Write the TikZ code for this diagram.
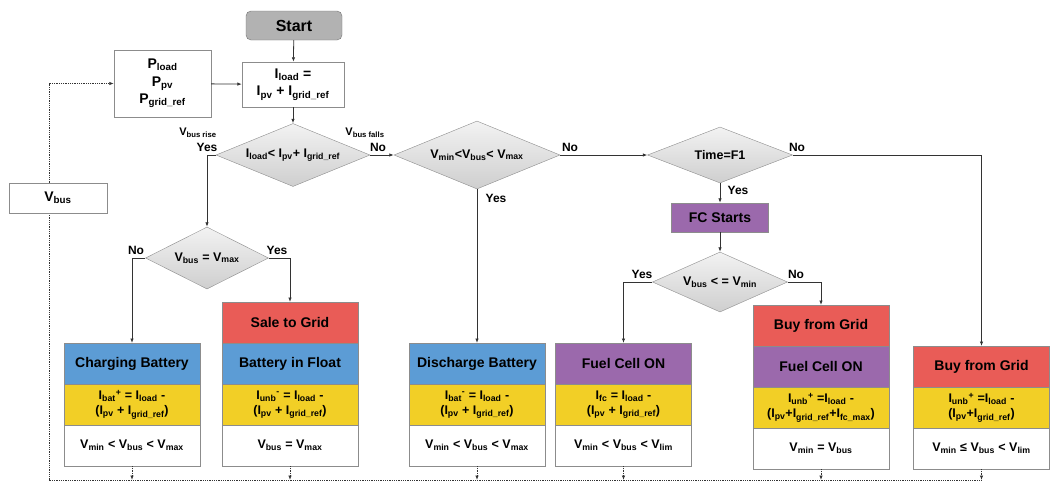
\documentclass[tikz,border=0pt]{standalone}
\usepackage{fontspec}
\setmainfont{Liberation Sans}
\usetikzlibrary{shapes.geometric,positioning,arrows.meta}

\definecolor{boxblue}{RGB}{92,156,213}
\definecolor{boxyellow}{RGB}{242,207,38}
\definecolor{boxred}{RGB}{233,92,87}
\definecolor{boxpurple}{RGB}{155,105,172}
\colorlet{box edge}{black!45}
\colorlet{flow line}{black!80}

\def\lo#1{\textsubscript{#1}}
\def\grf{I\lo{grid\_ref}}
\def\bigtext{\bfseries\fontsize{14}{17.5}\selectfont}
\def\smalltext{\bfseries\fontsize{12.5}{15.5}\selectfont}

\tikzset{band/.style={draw=box edge, minimum width=136pt, minimum height=41pt,
      inner sep=0pt, outer sep=0pt, align=center, font=\bigtext},
    formula/.style={band, fill=boxyellow, font=\smalltext},
    result/.style={band, fill=white, font=\smalltext},
    decision/.style={diamond, draw=box edge, top color=gray!10, bottom color=gray!38,
      inner sep=0pt, shape aspect=2.4, font=\smalltext},
    plain/.style={draw=box edge, fill=white, align=center, inner sep=0pt, font=\bigtext},
    flow/.style={draw=flow line, line width=0.8pt, -{Latex[length=4.5pt,width=3.5pt]}},
    feed/.style={flow, densely dotted},
    tag/.style={inner sep=0pt, font=\bfseries\fontsize{12}{14}\selectfont}}

\begin{document}
\begin{tikzpicture}[x=1pt, y=-1pt]
    \useasboundingbox (0,0) rectangle (1054,482);
    % top of the chart
    \node[plain, rounded corners=5pt, fill=gray!60, draw=black!55, minimum width=96pt,
      minimum height=29pt, font=\bfseries\fontsize{16}{18}\selectfont] (start) at (294,25.5) {Start};
    \node[plain, minimum width=102pt, minimum height=45pt] (iload) at (293,84.5) {I\lo{load} =\\I\lo{pv} + \grf};
    \node[plain, minimum width=97pt, minimum height=67pt] (pload) at (162.5,83.5) {P\lo{load}\\P\lo{pv}\\P\lo{grid\_ref}};
    \node[decision, minimum width=154pt, minimum height=63pt] (d1) at (293,155) {I\lo{load}< I\lo{pv}+ \grf};
    \node[decision, minimum width=166pt, minimum height=68pt] (d2) at (477,155) {V\lo{min}<V\lo{bus}< V\lo{max}};
    \node[decision, minimum width=145pt, minimum height=56pt, shape aspect=2.6] (time) at (720,155) {Time=F1};
    \node[plain, fill=boxpurple, minimum width=97pt, minimum height=29pt] (fcs) at (720,217.5) {FC Starts};
    \node[decision, minimum width=135pt, minimum height=60pt, shape aspect=2.25] (d3) at (720,282) {V\lo{bus} < = V\lo{min}};
    \node[decision, minimum width=123pt, minimum height=62pt, shape aspect=2] (d4) at (207,258) {V\lo{bus} = V\lo{max}};

    % result columns
    \node[band, fill=boxblue] (chg) at (132,363.5) {Charging Battery};
    \node[formula, below=0pt of chg] (chgI) {I\lo{bat}\textsuperscript{+} = I\lo{load} -\\(I\lo{pv} + \grf)};
    \node[result, below=0pt of chgI] (chgV) {V\lo{min} < V\lo{bus} < V\lo{max}};

    \node[band, fill=boxred] (sale) at (290,322.5) {Sale to Grid};
    \node[band, fill=boxblue, below=0pt of sale] (float) {Battery in Float};
    \node[formula, below=0pt of float] (saleI) {I\lo{unb}\textsuperscript{-} = I\lo{load} -\\(I\lo{pv} + \grf)};
    \node[result, below=0pt of saleI] (saleV) {V\lo{bus} = V\lo{max}};

    \node[band, fill=boxblue] (dis) at (477,363.5) {Discharge Battery};
    \node[formula, below=0pt of dis] (disI) {I\lo{bat}\textsuperscript{-} = I\lo{load} -\\(I\lo{pv} + \grf)};
    \node[result, below=0pt of disI] (disV) {V\lo{min} < V\lo{bus} < V\lo{max}};

    \node[band, fill=boxpurple] (fc) at (623.5,363.5) {Fuel Cell ON};
    \node[formula, below=0pt of fc] (fcI) {I\lo{fc} = I\lo{load} -\\(I\lo{pv} + \grf)};
    \node[result, below=0pt of fcI] (fcV) {V\lo{min} < V\lo{bus} < V\lo{lim}};

    \node[band, fill=boxred] (buy) at (821,325.5) {Buy from Grid};
    \node[band, fill=boxpurple, below=0pt of buy] (buyfc) {Fuel Cell ON};
    \node[formula, below=0pt of buyfc] (buyI) {I\lo{unb}\textsuperscript{+} =I\lo{load} -\\(I\lo{pv}+\grf+I\lo{fc\_max})};
    \node[result, below=0pt of buyI] (buyV) {V\lo{min} = V\lo{bus}};

    \node[band, fill=boxred] (grid) at (981.5,366.5) {Buy from Grid};
    \node[formula, below=0pt of grid] (gridI) {I\lo{unb}\textsuperscript{+} =I\lo{load} -\\(I\lo{pv}+\grf)};
    \node[result, below=0pt of gridI] (gridV) {V\lo{min} ≤ V\lo{bus} < V\lo{lim}};

    % connectors
    \draw[flow] (start) -- (iload);
    \draw[flow] (pload) -- (iload);
    \draw[flow] (iload) -- (d1);
    \draw[flow] (d1.west) -| (d4.north);
    \draw[flow] (d1.east) -- (d2.west);
    \draw[flow] (d2.east) -- (time.west);
    \draw[flow] (d2.south) -- (dis.north);
    \draw[flow] (time.south) -- (fcs.north);
    \draw[flow] (fcs.south) -- (d3.north);
    \draw[flow] (d3.west) -| (fc.north);
    \draw[flow] (d3.east) -| (buy.north);
    \draw[flow] (time.east) -| (grid.north);
    \draw[flow] (d4.west) -| (chg.north);
    \draw[flow] (d4.east) -| (sale.north);

    % branch labels
    \node[tag, font=\bfseries\fontsize{11}{13}\selectfont] (rise) at (198,133) {V\lo{bus rise}};
    \node[tag] (yes1) at (207,147) {Yes};
    \node[tag, font=\bfseries\fontsize{11}{13}\selectfont] (falls) at (365,133) {V\lo{bus falls}};
    \node[tag] (no1) at (378,147) {No};
    \node[tag] (no2) at (570,147) {No};
    \node[tag] (yes2) at (496,198) {Yes};
    \node[tag] (no3) at (797,147) {No};
    \node[tag] (yes3) at (738,190) {Yes};
    \node[tag] (yes4) at (642,274) {Yes};
    \node[tag] (no4) at (796,274) {No};
    \node[tag] (no5) at (136,250) {No};
    \node[tag] (yes5) at (277,250) {Yes};

    % feedback of the bus voltage
    \coordinate (bus) at (49,480);
    \draw[feed] (chgV.south) -- (chgV.south |- bus);
    \draw[feed] (saleV.south) -- (saleV.south |- bus);
    \draw[feed] (disV.south) -- (disV.south |- bus);
    \draw[feed] (fcV.south) -- (fcV.south |- bus);
    \draw[feed] (buyV.south) -- (buyV.south |- bus);
    \draw[feed] (gridV.south) -- (gridV.south |- bus);
    \draw[feed] (gridV.south |- bus) -- (bus) |- (pload.west);
    \node[plain, minimum width=98pt, minimum height=30pt] (vbus) at (58,198) {V\lo{bus}};
\end{tikzpicture}
\end{document}
